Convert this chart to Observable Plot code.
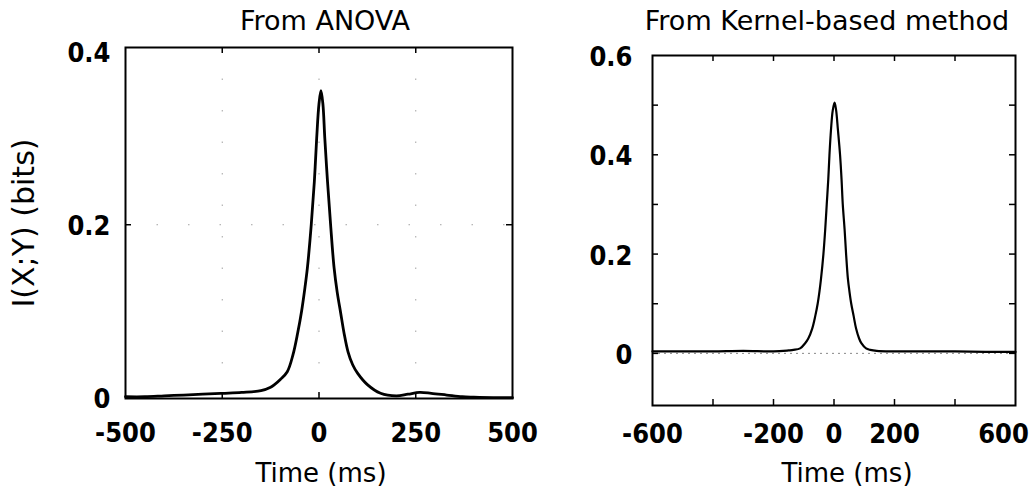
<!DOCTYPE html>
<html>
<head>
<meta charset="utf-8">
<script src="https://cdn.jsdelivr.net/npm/d3@7"></script>
<script src="https://cdn.jsdelivr.net/npm/@observablehq/plot@0.6"></script>
<style>
  html, body { margin: 0; padding: 0; background: #fff; }
  #wrap { position: relative; width: 1035px; height: 495px; overflow: hidden; }
  #a { position: absolute; left: 0; top: 0; }
  #b { position: absolute; left: 560px; top: 0; }
</style>
</head>
<body>
<div id="wrap"><div id="a"></div><div id="b"></div></div>
<script>
// ---- Left panel: From ANOVA ----
const anovaTitle = "From ANOVA";
const anovaTime = [-500,-450,-400,-350,-300,-250,-200,-150,-125,-115,-100,-82,-67,-55,-45,-37,-30,-20,-12,-6,0,5,10,15,22,30,39,47,56,65,75,87,100,125,159,200,230,260,290,330,370,400,450,500];
const anovaInfo = [0.001,0.001,0.002,0.003,0.004,0.005,0.006,0.008,0.012,0.015,0.021,0.03,0.05,0.075,0.1,0.125,0.15,0.2,0.25,0.3,0.34,0.355,0.34,0.3,0.25,0.2,0.15,0.122,0.098,0.074,0.053,0.038,0.028,0.015,0.005,0.002,0.004,0.006,0.005,0.003,0.001,0.0005,0,0];
const anovaXTicks = [-500,-250,0,250,500];
const anovaYTicks = [0,0.2,0.4];
const anovaInnerX = [-250,0,250];
const anovaInnerY = [0.2];

// ---- Right panel: From Kernel-based method ----
const kernelTitle = "From Kernel-based method";
const kernelTime = [-600,-500,-400,-300,-200,-150,-134,-112,-96,-85,-72,-62,-54,-48,-43,-35,-29,-24,-19,-15,-10,-4,2,7,13,20,25,29,35,40,46,51,57,65,73,83,91,106,120,141,200,300,400,500,600];
const kernelInfo = [0.004,0.004,0.004,0.005,0.004,0.006,0.007,0.01,0.02,0.03,0.05,0.075,0.1,0.125,0.15,0.2,0.25,0.3,0.35,0.4,0.45,0.49,0.505,0.49,0.45,0.4,0.35,0.3,0.25,0.2,0.15,0.125,0.1,0.075,0.05,0.03,0.02,0.01,0.007,0.005,0.004,0.004,0.004,0.003,0.003];
const kernelXTicks = [-600,-200,0,200];
const kernelXEdgeTicks = [600];
const kernelYTicks = [0,0.2,0.4,0.6];
const kernelInnerX = [-400,-200,0,200,400];
const kernelInnerY = [0,0.1,0.2,0.3,0.4,0.5];

const xLabel = "Time (ms)";
const yLabel = "I(X;Y) (bits)";

const tickFont = {fontSize: 27, fontWeight: "bold", fontFamily: "'DejaVu Sans Condensed', 'DejaVu Sans', sans-serif"};
const textFont = "'DejaVu Sans', sans-serif";

function panel(o) {
  const innerW = o.width - o.ml - o.mr;
  const innerH = o.height - o.mt - o.mb;
  const data = o.time.map((t, i) => ({t, v: o.info[i]}));
  const marks = [];
  if (o.grid) {
    marks.push(Plot.gridX(o.innerX, {stroke: "#666", strokeOpacity: 0.6, strokeDasharray: "1.5,30"}));
    marks.push(Plot.gridY(o.innerY, {stroke: "#666", strokeOpacity: 0.6, strokeDasharray: "1.5,30"}));
  }
  if (o.zeroRule) marks.push(Plot.ruleY([0], {stroke: "#888", strokeDasharray: "2,4"}));
  marks.push(
    Plot.tickX(o.innerX, {x: d => d, insetBottom: innerH - 6, stroke: "black", strokeWidth: 1.5}),
    Plot.tickX(o.innerX, {x: d => d, insetTop: innerH - 6, stroke: "black", strokeWidth: 1.5}),
    Plot.tickY(o.innerY, {y: d => d, insetRight: innerW - 6, stroke: "black", strokeWidth: 1.5}),
    Plot.tickY(o.innerY, {y: d => d, insetLeft: innerW - 6, stroke: "black", strokeWidth: 1.5}),
    Plot.line(data, {x: "t", y: "v", stroke: "black", strokeWidth: o.sw, curve: "catmull-rom"}),
    Plot.frame({stroke: "black", strokeWidth: 2}),
    Plot.axisX(o.xTicks, {tickSize: 0, tickPadding: o.xpad, tickFormat: d => String(d), label: null, ...tickFont}),
    Plot.axisY(o.yTicks, {tickSize: 0, tickPadding: o.ypad, tickFormat: d => String(d), label: null, dy: 2, ...tickFont}),
    Plot.text([o.title], {frameAnchor: "top", dy: o.titleDy, dx: o.titleDx, fontSize: 27, fontFamily: textFont, lineAnchor: "middle"}),
    Plot.text([xLabel], {frameAnchor: "bottom", textAnchor: "middle", dy: o.xlabDy, dx: o.xlabDx, fontSize: 26, fontFamily: textFont, lineAnchor: "middle"})
  );
  if (o.xEdge) marks.push(Plot.axisX(o.xEdge, {tickSize: 0, tickPadding: o.xpad, tickFormat: d => String(d), label: null, dx: -12, ...tickFont}));
  if (o.ylab) marks.push(Plot.text([yLabel], {frameAnchor: "left", textAnchor: "middle", dx: -101, rotate: -90, fontSize: 30, fontFamily: textFont, lineAnchor: "middle"}));
  return Plot.plot({
    width: o.width, height: o.height,
    marginLeft: o.ml, marginRight: o.mr, marginTop: o.mt, marginBottom: o.mb,
    x: {domain: o.xDomain},
    y: {domain: o.yDomain},
    style: {background: "white", color: "black", fontFamily: textFont, overflow: "visible"},
    marks
  });
}

document.getElementById("a").append(panel({
  width: 560, height: 495, ml: 125, mr: 48, mt: 47, mb: 97,
  time: anovaTime, info: anovaInfo, sw: 2.8,
  xDomain: [-500, 500], yDomain: [-0.001, 0.405],
  xTicks: anovaXTicks, yTicks: anovaYTicks, innerX: anovaInnerX, innerY: anovaInnerY,
  xpad: 24, ypad: 15, title: anovaTitle, titleDy: -26, titleDx: 6,
  xlabDy: 75, xlabDx: 2, ylab: true, grid: true
}));

document.getElementById("b").append(panel({
  width: 475, height: 495, ml: 92, mr: 20, mt: 55, mb: 90,
  time: kernelTime, info: kernelInfo, sw: 2.2,
  xDomain: [-600, 600], yDomain: [-0.105, 0.6],
  xTicks: kernelXTicks, xEdge: kernelXEdgeTicks, yTicks: kernelYTicks, innerX: kernelInnerX, innerY: kernelInnerY,
  xpad: 18, ypad: 20, title: kernelTitle, titleDy: -34, titleDx: -7,
  xlabDy: 68, xlabDx: 13, ylab: false, zeroRule: true
}));
</script>
</body>
</html>
